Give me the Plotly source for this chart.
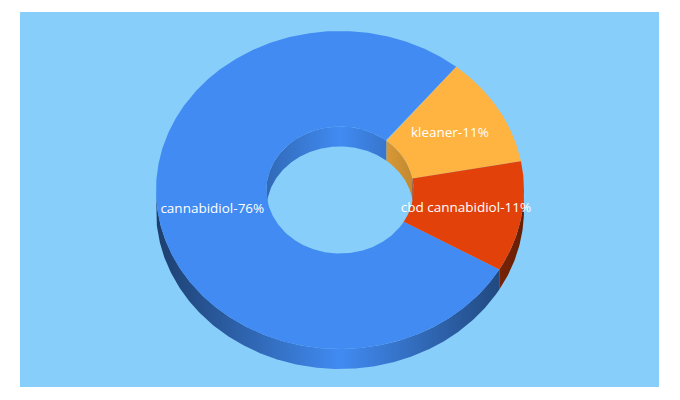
#!/usr/bin/env python3
import numpy as np
import plotly.graph_objects as go

# Data
categories = ["cannabidiol", "kleaner", "cbd cannabidiol"]
shares = [76, 11, 11]
slice_colors = ["#418bf2", "#ffb340", "#e2420a"]

# Panel is 639x375 px, one axis unit is one pixel
PANEL_W = 639
PANEL_H = 375
CX = 320
CY = 178
RX = 184
RY = 159
HOLE = 0.4
DEPTH = 20
START_ANGLE = 120

BG = "#87cefa"


def darker(color, factor):
    r, g, b = [int(color[i:i + 2], 16) for i in (1, 3, 5)]
    return "rgb({},{},{})".format(int(r * factor), int(g * factor), int(b * factor))


def arc(a0, a1, rx, ry, dy=0):
    # angles are clockwise from twelve o'clock, in degrees
    t = np.radians(np.linspace(a0, a1, max(int(abs(a1 - a0) * 2), 2)))
    return CX + rx * np.sin(t), CY + dy - ry * np.cos(t)


def band(a0, a1, rx, ry):
    # the wall between the top edge and the same edge moved down by the depth
    x0, y0 = arc(a0, a1, rx, ry)
    x1, y1 = arc(a1, a0, rx, ry, DEPTH)
    return np.r_[x0, x1, x0[0]], np.r_[y0, y1, y0[0]]


def add_wall(fig, a0, a1, rx, ry, color, edge):
    x, y = band(a0, a1, rx, ry)
    fig.add_trace(go.Scatter(
        x=x, y=y, mode="lines", line=dict(width=0), fill="toself",
        fillgradient=dict(
            type="horizontal", start=CX - rx, stop=CX + rx,
            colorscale=[[0, darker(color, edge)], [0.5, color], [1, darker(color, edge)]],
        ),
        hoverinfo="skip",
    ))


# Slice limits, going clockwise from the start angle
sweeps = np.array(shares) / sum(shares) * 360
ends = START_ANGLE + np.cumsum(sweeps)
starts = ends - sweeps

fig = go.Figure()

# Walls first, the top faces are drawn over them
for a0, a1, color in zip(starts, ends, slice_colors):
    for lo, hi in [(90, 270), (450, 630)]:
        if min(a1, hi) > max(a0, lo):
            add_wall(fig, max(a0, lo), min(a1, hi), RX, RY, color, 0.46)
    if min(a1, 450) > max(a0, 270):
        add_wall(fig, max(a0, 270), min(a1, 450), RX * HOLE, RY * HOLE, color, 0.76)

# Top faces
for a0, a1, color in zip(starts, ends, slice_colors):
    xo, yo = arc(a0, a1, RX, RY)
    xi, yi = arc(a1, a0, RX * HOLE, RY * HOLE)
    fig.add_trace(go.Scatter(
        x=np.r_[xo, xi, xo[0]], y=np.r_[yo, yi, yo[0]],
        mode="lines", line=dict(width=0), fill="toself", fillcolor=color,
        hoverinfo="skip",
    ))

# Labels sit half way across the ring
mids = np.radians((starts + ends) / 2)
mid_rx = RX * (1 + HOLE) / 2
mid_ry = RY * (1 + HOLE) / 2
fig.add_trace(go.Scatter(
    x=CX + mid_rx * np.sin(mids) - 1,
    y=CY - mid_ry * np.cos(mids),
    mode="text",
    text=["{}-{}%".format(c, s) for c, s in zip(categories, shares)],
    textposition="middle center",
    textfont=dict(family="Open Sans", size=13.5, color="white"),
    hoverinfo="skip",
))

fig.update_xaxes(visible=False, range=[0, PANEL_W], fixedrange=True)
fig.update_yaxes(visible=False, range=[PANEL_H, 0], fixedrange=True)
# the page has an 8 px body margin, so the margins here are 8 px less on the left and top
fig.update_layout(
    width=680, height=400,
    margin=dict(l=12, r=29, t=4, b=21),
    paper_bgcolor="white",
    plot_bgcolor=BG,
    showlegend=False,
)

fig.write_html("out.html")
